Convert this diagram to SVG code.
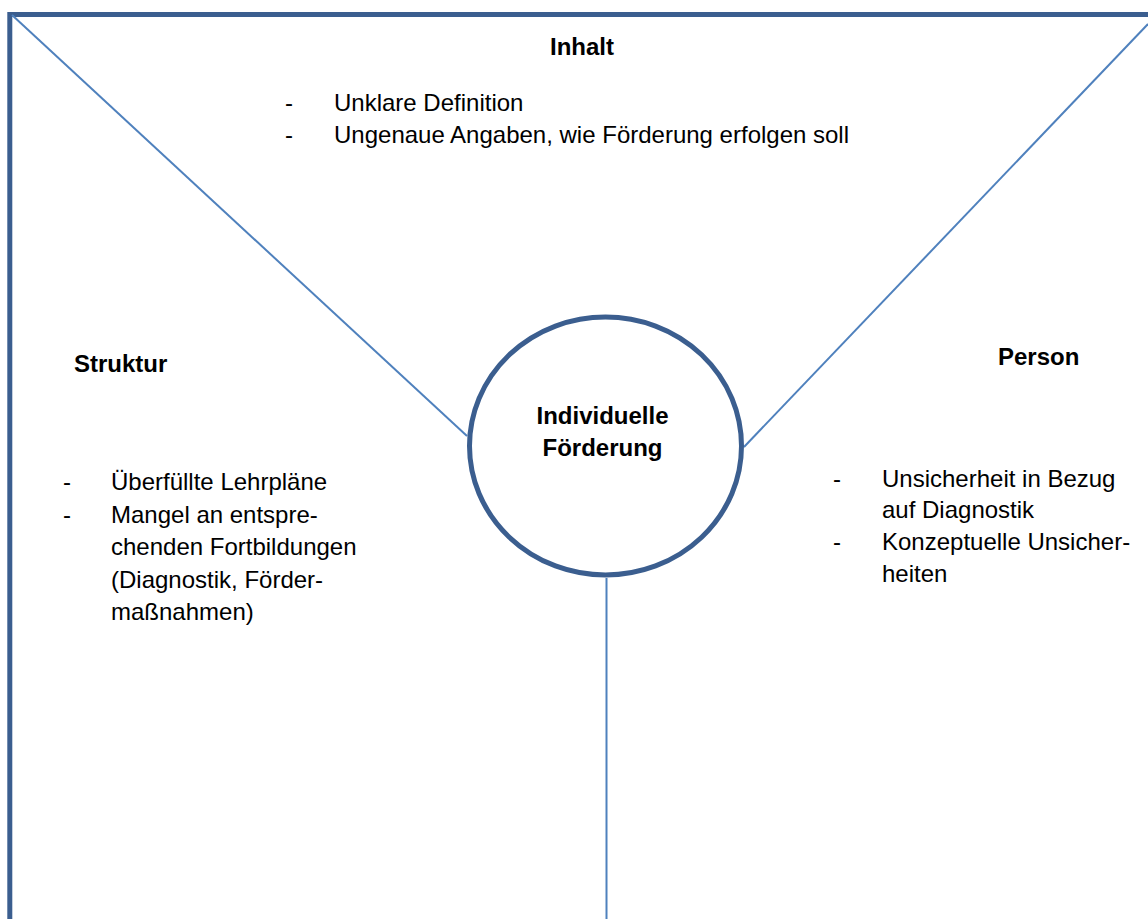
<svg xmlns="http://www.w3.org/2000/svg" width="1148" height="919" viewBox="0 0 1148 919">
  <style>
    .frame { fill: none; stroke: #3B5E8F; stroke-width: 5; }
    .spoke { fill: none; stroke: #4F81BD; stroke-width: 2; }
    .hub { fill: #FFFFFF; stroke: #3B5E8F; stroke-width: 5; }
    text { font-family: "Liberation Sans", Arial, sans-serif; font-size: 24px; fill: #000000; }
    .title { font-weight: bold; }
    .mid { text-anchor: middle; }
  </style>
  <rect width="1148" height="919" fill="#FFFFFF"/>

  <!-- outer frame (top and left edges) -->
  <path class="frame" d="M 9.8 919 L 9.8 14.5 L 1148 14.5"/>

  <!-- connectors -->
  <g id="connectors">
    <line class="spoke" x1="12" y1="15" x2="467" y2="436"/>
    <line class="spoke" x1="1148" y1="24" x2="744" y2="447"/>
    <line class="spoke" x1="606.5" y1="578" x2="606.5" y2="919"/>
  </g>

  <!-- central node -->
  <g id="individuelle-foerderung">
    <ellipse class="hub" cx="605.5" cy="446" rx="136" ry="129"/>
    <text class="title mid" x="602.5" y="424">Individuelle</text>
    <text class="title mid" x="602.5" y="456">Förderung</text>
  </g>

  <!-- content -->
  <g id="inhalt">
    <text class="title mid" x="582" y="55">Inhalt</text>
    <text x="285" y="111">-</text>
    <text x="334" y="111">Unklare Definition</text>
    <text x="285" y="143">-</text>
    <text x="334" y="143">Ungenaue Angaben, wie Förderung erfolgen soll</text>
  </g>

  <!-- structure -->
  <g id="struktur">
    <text class="title" x="74" y="372">Struktur</text>
    <text x="63" y="490">-</text>
    <text x="111" y="490">Überfüllte Lehrpläne</text>
    <text x="63" y="523">-</text>
    <text x="111" y="523">Mangel an entspre-</text>
    <text x="111" y="555">chenden Fortbildungen</text>
    <text x="111" y="588">(Diagnostik, Förder-</text>
    <text x="111" y="620">maßnahmen)</text>
  </g>

  <!-- person -->
  <g id="person">
    <text class="title" x="998" y="365">Person</text>
    <text x="833" y="487">-</text>
    <text x="882" y="487">Unsicherheit in Bezug</text>
    <text x="882" y="518">auf Diagnostik</text>
    <text x="833" y="550">-</text>
    <text x="882" y="550">Konzeptuelle Unsicher-</text>
    <text x="882" y="582">heiten</text>
  </g>
</svg>
